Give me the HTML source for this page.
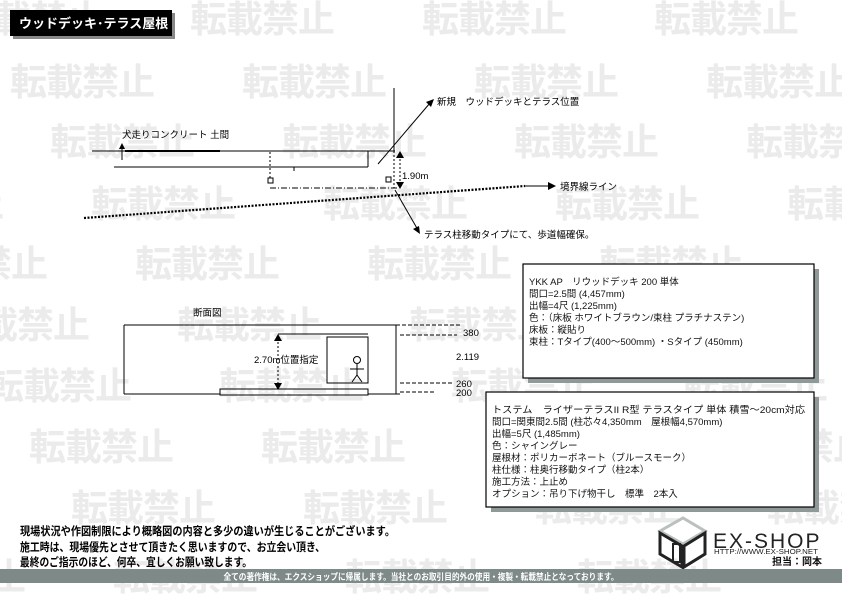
<!DOCTYPE html>
<html><head><meta charset="utf-8"><style>
html,body{margin:0;padding:0;background:#fff;width:842px;height:595px;overflow:hidden}
svg{display:block}
text{font-family:"Liberation Sans","Noto Sans CJK JP",sans-serif}
.wm{font-size:37px;font-weight:bold;fill:#ebebeb;letter-spacing:-1px}
.s{font-size:9.5px;fill:#000}
.b{font-size:9.5px;fill:#111}
</style></head><body>
<svg width="842" height="595" viewBox="0 0 842 595" xmlns="http://www.w3.org/2000/svg">
<g class="wm">
<text x="-42" y="32">転載禁止</text><text x="190" y="32">転載禁止</text><text x="422" y="32">転載禁止</text><text x="654" y="32">転載禁止</text>
<text x="10" y="95">転載禁止</text><text x="242" y="95">転載禁止</text><text x="474" y="95">転載禁止</text><text x="706" y="95">転載禁止</text>
<text x="50" y="155">転載禁止</text><text x="282" y="155">転載禁止</text><text x="514" y="155">転載禁止</text><text x="746" y="155">転載禁止</text>
<text x="-141" y="217">転載禁止</text><text x="91" y="217">転載禁止</text><text x="323" y="217">転載禁止</text><text x="555" y="217">転載禁止</text><text x="787" y="217">転載禁止</text>
<text x="-97" y="277">転載禁止</text><text x="135" y="277">転載禁止</text><text x="367" y="277">転載禁止</text><text x="599" y="277">転載禁止</text>
<text x="-55" y="338">転載禁止</text><text x="177" y="338">転載禁止</text><text x="409" y="338">転載禁止</text><text x="641" y="338">転載禁止</text>
<text x="-13" y="399">転載禁止</text><text x="219" y="399">転載禁止</text><text x="451" y="399">転載禁止</text><text x="683" y="399">転載禁止</text>
<text x="29" y="460">転載禁止</text><text x="261" y="460">転載禁止</text><text x="493" y="460">転載禁止</text><text x="725" y="460">転載禁止</text>
<text x="-161" y="521">転載禁止</text><text x="71" y="521">転載禁止</text><text x="303" y="521">転載禁止</text><text x="535" y="521">転載禁止</text><text x="767" y="521">転載禁止</text>
<text x="-119" y="590">転載禁止</text><text x="113" y="590">転載禁止</text><text x="345" y="590">転載禁止</text><text x="577" y="590">転載禁止</text>
</g>
<rect x="13" y="13" width="162" height="26" fill="#888"/>
<rect x="10" y="10" width="162" height="26" fill="#000"/>
<text x="19" y="28" fill="#fff" font-size="13" font-weight="bold">ウッドデッキ･テラス屋根</text>

<g stroke="#000" fill="none" stroke-width="1">
<line x1="92" y1="151" x2="395" y2="151"/>
<line x1="125" y1="151" x2="220" y2="151" stroke-width="2"/>
<line x1="114" y1="167" x2="368" y2="167"/>
<line x1="368" y1="151" x2="368" y2="167"/>
<line x1="294" y1="167" x2="294" y2="171"/>
<line x1="122" y1="147" x2="122" y2="160"/>
<line x1="270" y1="152" x2="270" y2="180" stroke-dasharray="2,2"/>
<rect x="268" y="178" width="5" height="5"/>
<rect x="386" y="177" width="5" height="5"/>
<line x1="270" y1="188" x2="398" y2="188" stroke-dasharray="6,2,1,2"/>
<line x1="394" y1="88" x2="394" y2="151"/>
<line x1="394" y1="151" x2="394" y2="188" stroke-dasharray="2,2"/>
<line x1="378" y1="164" x2="430" y2="103"/>
<line x1="400" y1="155" x2="400" y2="186" stroke-dasharray="2,2"/>
<line x1="84" y1="218" x2="525" y2="186" stroke-width="2.2" stroke-dasharray="2,1.5"/>
<line x1="525" y1="186" x2="550" y2="186"/>
<line x1="395" y1="190" x2="418" y2="230"/>
</g>
<polygon points="122,143 119,149 125,149" fill="#000"/>
<polygon points="434,99 426,102 431,107" fill="#000"/>
<polygon points="400,151 396,158 404,158" fill="#000"/>
<polygon points="400,189 396,182 404,182" fill="#000"/>
<polygon points="556,186 548,182 548,190" fill="#000"/>
<polygon points="420,234 413,229 419,226" fill="#000"/>
<text class="s" x="122" y="138">犬走りコンクリート 土間</text>
<text class="s" x="437" y="105">新規　ウッドデッキとテラス位置</text>
<text class="s" x="402" y="179">1.90m</text>
<text class="s" x="560" y="190">境界線ライン</text>
<text class="s" x="424" y="238">テラス柱移動タイプにて、歩道幅確保。</text>

<text class="s" x="193" y="316">断面図</text>
<g stroke="#000" fill="none" stroke-width="1">
<line x1="124" y1="325" x2="396" y2="325"/>
<line x1="396" y1="325" x2="460" y2="325" stroke-dasharray="4,2"/>
<line x1="124" y1="325" x2="124" y2="394"/>
<line x1="124" y1="394" x2="220" y2="394"/>
<line x1="396" y1="325" x2="396" y2="394"/>
<line x1="368" y1="394" x2="400" y2="394"/>
<line x1="278" y1="334" x2="368" y2="334"/>
<line x1="400" y1="335" x2="457" y2="335" stroke-dasharray="4,2"/>
<rect x="327" y="337" width="41" height="46"/>
<rect x="220" y="389" width="148" height="6"/>
<line x1="278" y1="338" x2="278" y2="386" stroke-dasharray="2,2"/>
<line x1="400" y1="383" x2="452" y2="383" stroke-dasharray="4,2"/>
<line x1="400" y1="392" x2="435" y2="392" stroke-dasharray="4,2"/>
<circle cx="357" cy="360" r="3.5"/>
<line x1="357" y1="364" x2="357" y2="375"/>
<line x1="350" y1="369" x2="364" y2="369"/>
<line x1="357" y1="375" x2="352" y2="382"/>
<line x1="357" y1="375" x2="362" y2="382"/>
</g>
<polygon points="278,334 274,341 282,341" fill="#000"/>
<polygon points="278,390 274,383 282,383" fill="#000"/>
<text class="s" x="254" y="363">2.70m位置指定</text>
<text class="s" x="463" y="336">380</text>
<text class="s" x="456" y="360">2.119</text>
<text class="s" x="456" y="387">260</text>
<text class="s" x="456" y="396">200</text>

<rect x="528" y="269" width="291" height="114" fill="#8f9a98"/>
<rect x="523" y="264" width="291" height="114" fill="#fff" stroke="#000" stroke-width="1.2"/>
<g class="b">
<text x="529" y="285">YKK AP　リウッドデッキ 200 単体</text>
<text x="529" y="297">間口=2.5間 (4,457mm)</text>
<text x="529" y="309">出幅=4尺 (1,225mm)</text>
<text x="529" y="321">色：（床板 ホワイトブラウン/束柱 プラチナステン)</text>
<text x="529" y="333">床板：縦貼り</text>
<text x="529" y="345">束柱：Tタイプ(400～500mm) ・Sタイプ (450mm)</text>
</g>
<rect x="491" y="397" width="328" height="115" fill="#8f9a98"/>
<rect x="486" y="392" width="328" height="115" fill="#fff" stroke="#000" stroke-width="1.2"/>
<g class="b">
<text x="492" y="413" textLength="313" lengthAdjust="spacingAndGlyphs">トステム　ライザーテラスII R型 テラスタイプ 単体 積雪～20cm対応</text>
<text x="492" y="425">間口=関東間2.5間 (柱芯々4,350mm　屋根幅4,570mm)</text>
<text x="492" y="437">出幅=5尺 (1,485mm)</text>
<text x="492" y="449">色：シャイングレー</text>
<text x="492" y="461">屋根材：ポリカーボネート（ブルースモーク）</text>
<text x="492" y="473">柱仕様：柱奥行移動タイプ（柱2本）</text>
<text x="492" y="485">施工方法：上止め</text>
<text x="492" y="497">オプション：吊り下げ物干し　標準　2本入</text>
</g>

<g font-size="11.5" font-weight="bold" fill="#000">
<text x="20" y="535" textLength="375" lengthAdjust="spacingAndGlyphs">現場状況や作図制限により概略図の内容と多少の違いが生じることがございます。</text>
<text x="20" y="551" textLength="305" lengthAdjust="spacingAndGlyphs">施工時は、現場優先とさせて頂きたく思いますので、お立会い頂き、</text>
<text x="20" y="566" textLength="232" lengthAdjust="spacingAndGlyphs">最終のご指示のほど、何卒、宜しくお願い致します。</text>
</g>

<g fill="none" stroke-width="3">
<polygon points="660,531 683,518 705,531 683,544" stroke="#b9c0bf"/>
<polygon points="660,533 682,546 682,567 660,554" stroke="#222"/>
<polygon points="684,546 705,533 705,554 684,567" stroke="#222"/>
<rect x="673" y="544" width="7" height="18" stroke="#222" stroke-width="2"/>
</g>
<text x="713" y="548" font-size="21" fill="#222" letter-spacing="2">EX-SHOP</text>
<text x="714" y="554" font-size="7" fill="#222" textLength="104" lengthAdjust="spacingAndGlyphs">HTTP://WWW.EX-SHOP.NET</text>
<text x="772" y="565" font-size="10" font-weight="bold" fill="#111">担当：岡本</text>

<rect x="0" y="569" width="842" height="14" fill="#7e8a88"/>
<text x="421" y="580" font-size="9" fill="#fff" font-weight="bold" text-anchor="middle" textLength="395" lengthAdjust="spacingAndGlyphs">全ての著作権は、エクスショップに帰属します。当社とのお取引目的外の使用・複製・転載禁止となっております。</text>
</svg>
</body></html>
